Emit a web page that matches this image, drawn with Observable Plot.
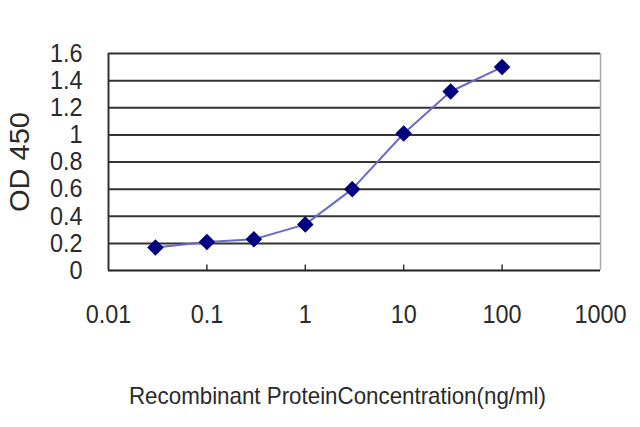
<!DOCTYPE html>
<html>
<head>
<meta charset="utf-8">
<script src="https://cdn.jsdelivr.net/npm/d3@7"></script>
<script src="https://cdn.jsdelivr.net/npm/@observablehq/plot@0.6"></script>
<style>
  html, body { margin: 0; padding: 0; background: #fff; }
  #chart { width: 640px; height: 427px; }
</style>
</head>
<body>
<div id="chart"></div>
<script>
const concentrations = [0.03, 0.1, 0.3, 1, 3, 10, 30, 100];
const od450 = [0.17, 0.21, 0.23, 0.34, 0.60, 1.01, 1.32, 1.50];
const xTicks = [0.01, 0.1, 1, 10, 100, 1000];
const xTickLabels = ["0.01", "0.1", "1", "10", "100", "1000"];
const yTicks = [0, 0.2, 0.4, 0.6, 0.8, 1, 1.2, 1.4, 1.6];
const yTickLabels = ["0", "0.2", "0.4", "0.6", "0.8", "1", "1.2", "1.4", "1.6"];
const yTitle = "OD 450";
const xTitle = "Recombinant ProteinConcentration(ng/ml)";

const data = concentrations.map((c, i) => ({c, v: od450[i]}));
const font = "'Liberation Sans', Arial, sans-serif";

const svg = Plot.plot({
  width: 640,
  height: 427,
  marginLeft: 108,
  marginRight: 40,
  marginTop: 53,
  marginBottom: 157,
  style: {fontFamily: font, background: "#fff", color: "#2a2a2a"},
  x: {type: "log", domain: [0.01, 1000]},
  y: {domain: [0, 1.6]},
  marks: [
    Plot.ruleY(yTicks.slice(1), {stroke: "#333", strokeWidth: 2}),
    Plot.ruleX([1000], {stroke: "#aaa", strokeWidth: 1.5}),
    Plot.ruleX(xTicks.slice(1, -1), {y1: 0, y2: 0.04, stroke: "#333", strokeWidth: 1.5}),
    Plot.ruleY([0], {stroke: "#222", strokeWidth: 2}),
    Plot.ruleX([0.01], {stroke: "#333", strokeWidth: 2}),
    Plot.axisY({ticks: yTicks, tickSize: 0, tickPadding: 26, fontSize: 26, label: null,
      tickFormat: d => yTickLabels[yTicks.indexOf(d)]}),
    Plot.axisX({ticks: xTicks, tickSize: 0, tickPadding: 34, fontSize: 26, label: null,
      tickFormat: d => xTickLabels[xTicks.indexOf(d)]}),
    Plot.line(data, {x: "c", y: "v", stroke: "#6a6ac8", strokeWidth: 2}),
    Plot.dot(data, {x: "c", y: "v", symbol: "diamond2", r: 6.5, fill: "#000080", stroke: "#000080"}),
    Plot.text([yTitle], {frameAnchor: "left", textAnchor: "middle", rotate: -90, dx: -88, fontSize: 28, fill: "#2a2a2a"}),
    Plot.text([xTitle], {frameAnchor: "bottom", dy: 133, dx: -17, fontSize: 24, fill: "#2a2a2a"})
  ]
});

document.getElementById("chart").appendChild(svg);

const tickSet = new Set([...xTickLabels, ...yTickLabels]);
d3.select(svg).selectAll("text").each(function() {
  const t = this.textContent;
  if (t === xTitle) {
    d3.select(this).attr("textLength", 417).attr("lengthAdjust", "spacingAndGlyphs");
  } else if (tickSet.has(t)) {
    const len = this.getComputedTextLength();
    d3.select(this).attr("textLength", len * 0.9).attr("lengthAdjust", "spacingAndGlyphs");
  } else if (t === yTitle) {
    d3.select(this).attr("textLength", 100).attr("lengthAdjust", "spacingAndGlyphs");
  }
});
</script>
</body>
</html>
